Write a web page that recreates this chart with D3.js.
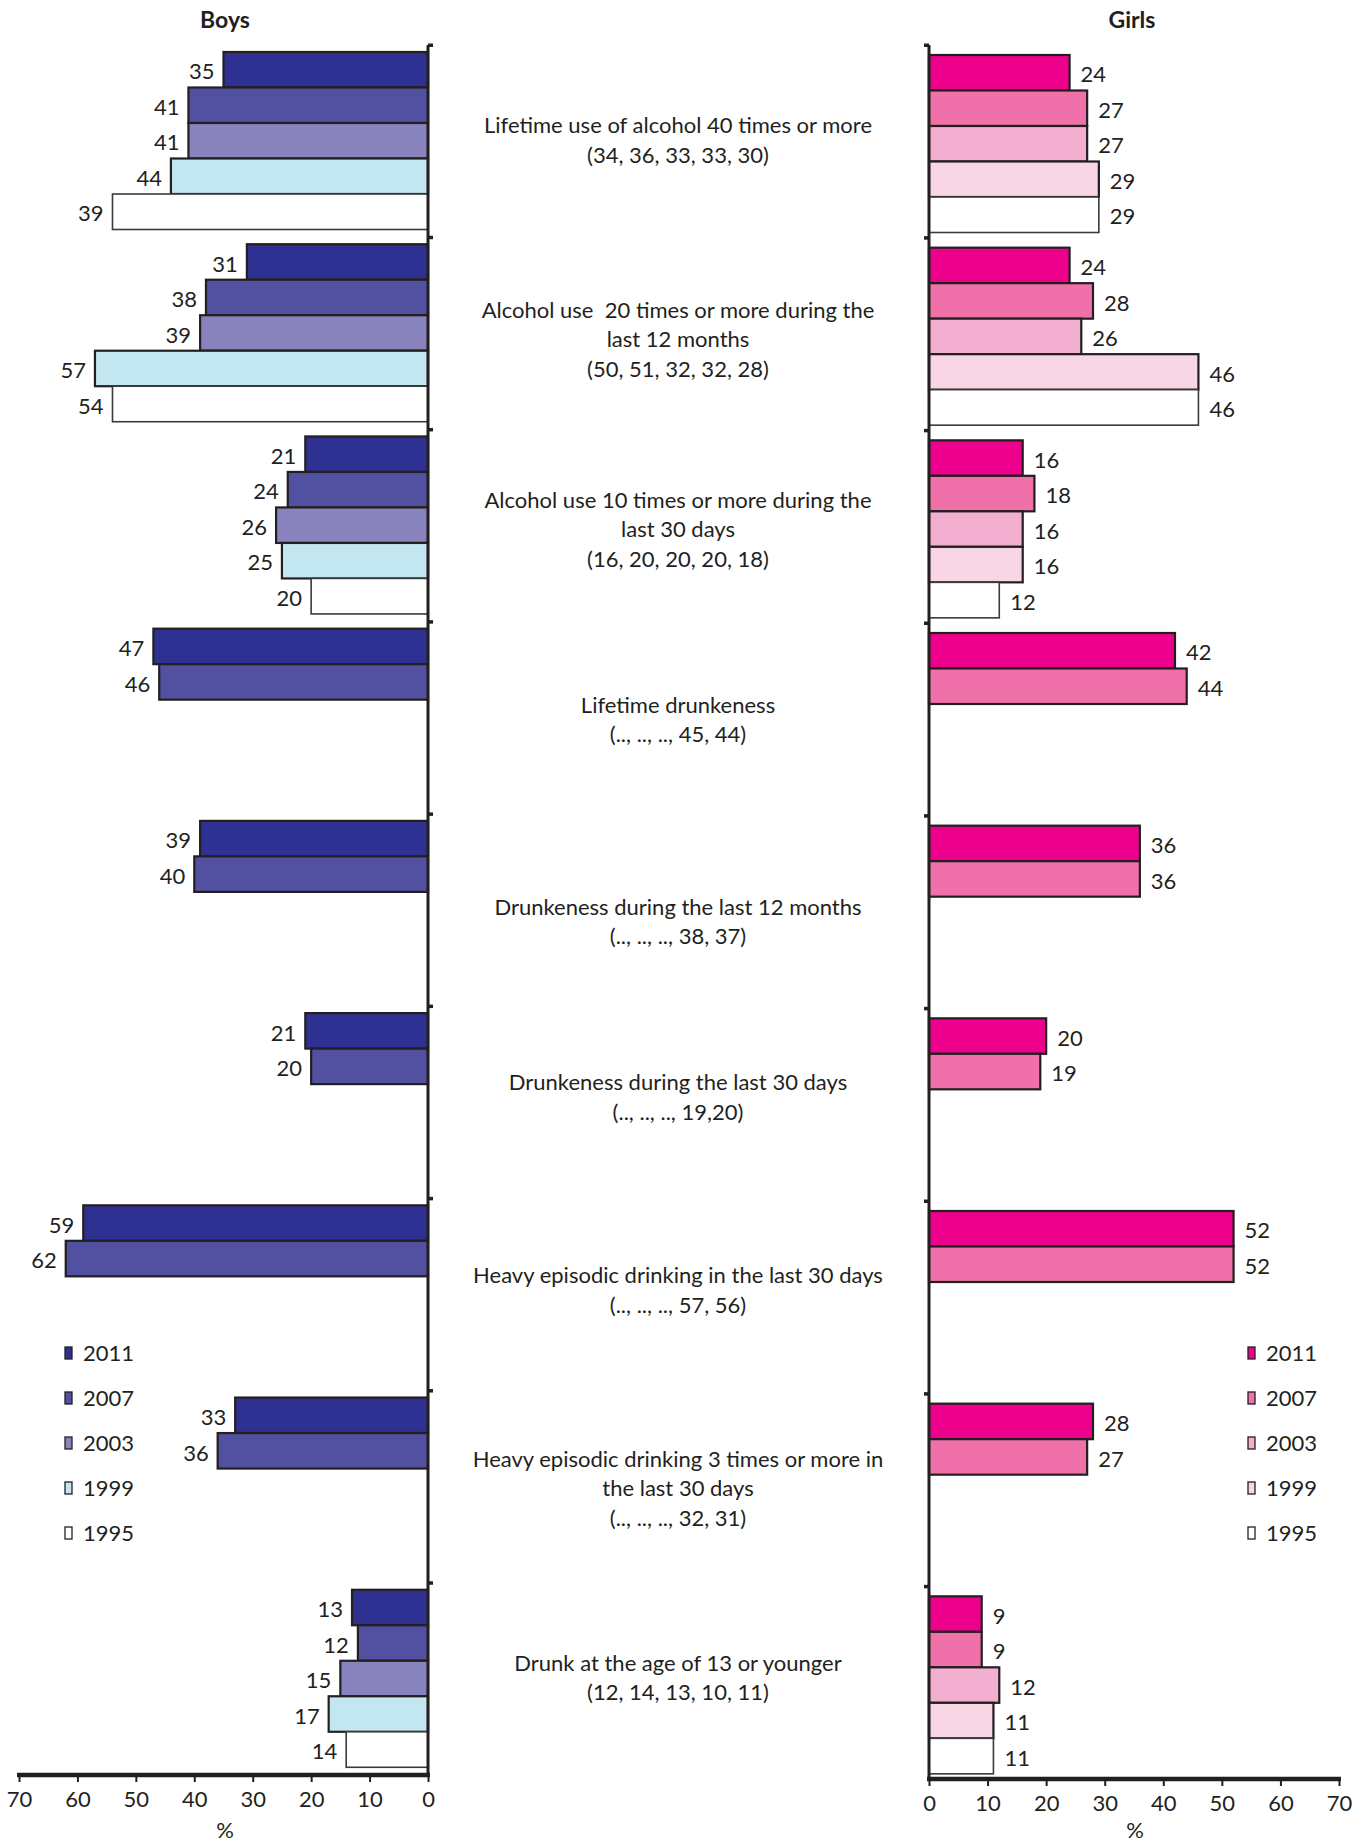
<!DOCTYPE html>
<html>
<head>
<meta charset="utf-8">
<script src="https://cdn.jsdelivr.net/npm/d3@7"></script>
<style>
  html, body { margin: 0; padding: 0; background: #fff; }
  svg { display: block; }
  text { font-family: Lato, "Open Sans", sans-serif; fill: #231F20; white-space: pre; }
</style>
</head>
<body>
<script>
// ---------------- DATA ----------------
const years = ["2011", "2007", "2003", "1999", "1995"];

const categories = [
  ["Lifetime use of alcohol 40 times or more", "(34, 36, 33, 33, 30)"],
  ["Alcohol use  20 times or more during the", "last 12 months", "(50, 51, 32, 32, 28)"],
  ["Alcohol use 10 times or more during the", "last 30 days", "(16, 20, 20, 20, 18)"],
  ["Lifetime drunkeness", "(.., .., .., 45, 44)"],
  ["Drunkeness during the last 12 months", "(.., .., .., 38, 37)"],
  ["Drunkeness during the last 30 days", "(.., .., .., 19,20)"],
  ["Heavy episodic drinking in the last 30 days", "(.., .., .., 57, 56)"],
  ["Heavy episodic drinking 3 times or more in", "the last 30 days", "(.., .., .., 32, 31)"],
  ["Drunk at the age of 13 or younger", "(12, 14, 13, 10, 11)"]
];

// values per category, in the order of `years` (2011, 2007, 2003, 1999, 1995)
const boysValues = [
  [35, 41, 41, 44, 39],
  [31, 38, 39, 57, 54],
  [21, 24, 26, 25, 20],
  [47, 46],
  [39, 40],
  [21, 20],
  [59, 62],
  [33, 36],
  [13, 12, 15, 17, 14]
];
const girlsValues = [
  [24, 27, 27, 29, 29],
  [24, 28, 26, 46, 46],
  [16, 18, 16, 16, 12],
  [42, 44],
  [36, 36],
  [20, 19],
  [52, 52],
  [28, 27],
  [9, 9, 12, 11, 11]
];
// In the original figure one bar is drawn to a different length than its label
// (boys, first item, 1995: label 39, bar drawn to 54).
const boysBarOverride = [{ cat: 0, year: "1995", drawn: 54 }];

const xTicks = [0, 10, 20, 30, 40, 50, 60, 70];

const boysColors = ["#2E3192", "#5150A1", "#8983BD", "#C3E7F0", "#FFFFFF"];
const girlsColors = ["#EC008C", "#F071A9", "#F3AFCF", "#F9D6E6", "#FFFFFF"];

// ---------------- LAYOUT ----------------
const W = 1366, H = 1843;
const ink = "#231F20";
const FS = 22;
// small vertical nudges of the middle text blocks, as placed in the original
const midTextNudge = [-1, 6, 4, 2, 12, -5, -4, 2, -1];

const svg = d3.select("body").append("svg").attr("width", W).attr("height", H);

const boysX = d3.scaleLinear().domain([0, 70]).range([428, 19]);
const girlsX = d3.scaleLinear().domain([0, 70]).range([929, 1339]);

const catIdx = d3.range(categories.length);
const boysY = d3.scaleBand().domain(catIdx).range([45, 1775]);
const girlsY = d3.scaleBand().domain(catIdx).range([45, 1779]);

function barBand(groupScale, i, padTop) {
  const top = groupScale(i);
  return d3.scaleBand().domain(years).range([top + padTop, top + padTop + 177.5]);
}

function drawSide(cfg) {
  const g = svg.append("g");
  cfg.values.forEach((vals, ci) => {
    const yb = barBand(cfg.yScale, ci, cfg.padTop);
    const data = vals.map((v, k) => {
      let drawn = v;
      (cfg.override || []).forEach(o => { if (o.cat === ci && o.year === years[k]) drawn = o.drawn; });
      return { v, drawn, year: years[k], k };
    });
    g.selectAll(null).data(data).enter().append("rect")
      .attr("x", d => Math.min(cfg.x(0), cfg.x(d.drawn)))
      .attr("y", d => yb(d.year))
      .attr("width", d => Math.abs(cfg.x(d.drawn) - cfg.x(0)))
      .attr("height", yb.bandwidth())
      .attr("fill", d => cfg.colors[d.k])
      .attr("stroke", d => d.k === 4 ? "#3a3a3a" : ink)
      .attr("stroke-width", d => d.k === 4 ? 1.6 : 2.2);
    g.selectAll(null).data(data).enter().append("text")
      .attr("x", d => cfg.x(d.drawn) + cfg.labelDx)
      .attr("y", d => yb(d.year) + yb.bandwidth() / 2 + 2)
      .attr("dy", "0.35em")
      .attr("text-anchor", cfg.anchor)
      .attr("font-size", FS)
      .text(d => d.v);
  });

  // vertical axis line
  const x0 = cfg.x(0);
  const [yTop, yBot] = cfg.yScale.range();
  g.append("line").attr("x1", x0).attr("x2", x0).attr("y1", yTop).attr("y2", yBot)
    .attr("stroke", ink).attr("stroke-width", 3);
  // group boundary ticks
  const bounds = catIdx.map(i => cfg.yScale(i));
  g.selectAll(null).data(bounds).enter().append("rect")
    .attr("x", cfg.tickSide > 0 ? x0 : x0 - 5)
    .attr("y", d => d - 1.5)
    .attr("width", 5).attr("height", 3.5)
    .attr("fill", ink);

  // bottom axis
  const ax = d3.axisBottom(cfg.x).tickValues(xTicks).tickSize(7).tickPadding(9).tickFormat(d3.format("d"));
  const axG = svg.append("g").attr("transform", `translate(0,${yBot})`).call(ax);
  axG.select(".domain").attr("stroke", ink).attr("stroke-width", 4.5)
    .attr("d", `M${Math.min(cfg.x(0), cfg.x(70)) - 2},0H${Math.max(cfg.x(0), cfg.x(70)) + 2}`);
  axG.selectAll(".tick line").attr("stroke", ink).attr("stroke-width", 2);
  axG.selectAll(".tick text").attr("font-size", FS).attr("font-family", "Lato, sans-serif").attr("fill", ink);

  // % label
  svg.append("text").attr("x", cfg.pctX).attr("y", 1838).attr("text-anchor", "middle")
    .attr("font-size", FS).text("%");

  // title
  svg.append("text").attr("x", cfg.titleX).attr("y", 28).attr("text-anchor", "middle")
    .attr("font-size", 23).attr("font-weight", "bold").text(cfg.title);

  // legend
  const leg = svg.append("g");
  years.forEach((yr, k) => {
    const cy = 1353 + k * 45;
    leg.append("rect").attr("x", cfg.legX).attr("y", cy - 6).attr("width", 7).attr("height", 12)
      .attr("fill", cfg.colors[k]).attr("stroke", ink).attr("stroke-width", 1.3);
    leg.append("text").attr("x", cfg.legX + 18).attr("y", cy).attr("dy", "0.35em")
      .attr("font-size", FS).text(yr);
  });
}

drawSide({
  values: boysValues, x: boysX, yScale: boysY, padTop: 7, colors: boysColors,
  override: boysBarOverride, labelDx: -9, anchor: "end", tickSide: 1,
  pctX: 225, titleX: 225, title: "Boys", legX: 65
});
drawSide({
  values: girlsValues, x: girlsX, yScale: girlsY, padTop: 10, colors: girlsColors,
  override: [], labelDx: 11, anchor: "start", tickSide: -1,
  pctX: 1135, titleX: 1132, title: "Girls", legX: 1248
});

// category text in the middle
const midX = 678;
const mid = svg.append("g");
categories.forEach((lines, i) => {
  const cy = boysY(i) + boysY.bandwidth() / 2 + midTextNudge[i];
  const lh = 29.5;
  const t = mid.append("text").attr("x", midX).attr("text-anchor", "middle").attr("font-size", FS);
  lines.forEach((ln, j) => {
    t.append("tspan").attr("x", midX)
      .attr("y", cy + (j - (lines.length - 1) / 2) * lh)
      .attr("dy", "0.35em")
      .text(ln);
  });
});
</script>
</body>
</html>
